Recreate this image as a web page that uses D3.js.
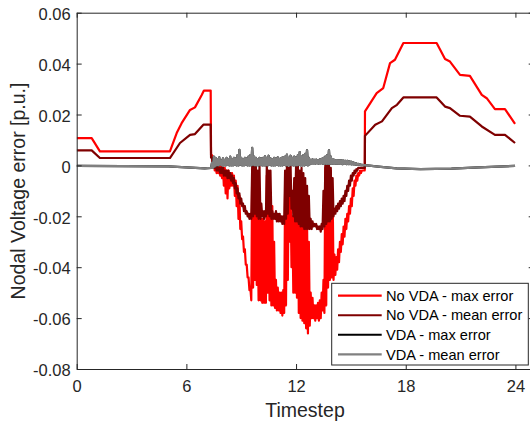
<!DOCTYPE html>
<html>
<head>
<meta charset="utf-8">
<script src="https://cdn.jsdelivr.net/npm/d3@7"></script>
<style>
  body { margin: 0; background: #fff; }
  svg { display: block; font-family: "Liberation Sans", Arial, sans-serif; }
</style>
</head>
<body>
<div id="chart"></div>
<script>
// axis ticks
const xTicks = [0, 6, 12, 18, 24];
const yTicks = [-0.08, -0.06, -0.04, -0.02, 0, 0.02, 0.04, 0.06];
const yTickLabels = ["-0.08", "-0.06", "-0.04", "-0.02", "0", "0.02", "0.04", "0.06"];

const seriesNames = ["No VDA - max error", "No VDA - mean error", "VDA - max error", "VDA - mean error"];
const seriesColors = ["#ff0000", "#7f0000", "#000000", "#808080"];

// smooth parts [time, error]
const noVdaMaxPre = [[0, 0.0107], [0.82, 0.0107], [1.27, 0.0055], [5.10, 0.0055], [5.47, 0.0127], [5.74, 0.0166],
  [6.20, 0.0218], [6.47, 0.0228], [6.84, 0.0277], [6.96, 0.0294], [7.33, 0.0294], [7.35, 0.004]];
const noVdaMaxPost = [[15.76, -0.0017], [15.77, 0.0212], [16.41, 0.0284], [16.77, 0.0304], [17.14, 0.0402], [17.41, 0.0415],
  [17.87, 0.0481], [19.69, 0.0481], [20.15, 0.0418], [20.42, 0.0408], [20.97, 0.0356], [21.51, 0.0352],
  [22.16, 0.0277], [22.43, 0.0264], [22.88, 0.0221], [23.43, 0.0221], [23.98, 0.0163]];

const noVdaMeanPre = [[0, 0.0059], [0.82, 0.0059], [1.27, 0.0029], [5.10, 0.0029], [5.65, 0.0088], [6.20, 0.012],
  [6.47, 0.0123], [6.93, 0.016], [7.33, 0.016], [7.35, 0.003]];
const noVdaMeanPost = [[15.76, -0.001], [15.77, 0.0116], [16.33, 0.016], [16.7, 0.0173], [17.24, 0.0225], [17.52, 0.0238],
  [17.87, 0.0267], [19.69, 0.0267], [20.15, 0.0231], [20.42, 0.0225], [20.97, 0.0195], [21.51, 0.0192],
  [22.16, 0.0153], [22.88, 0.012], [23.43, 0.012], [23.98, 0.0088]];

const vdaMeanPre = [[0, -0.0002], [5.0, -0.0004], [6.0, -0.0008], [7.0, -0.0012], [7.35, -0.001]];
const vdaMeanPost = [[15.76, 0.0001], [16.5, -0.0005], [17.5, -0.0012], [18.8, -0.0015], [20.5, -0.0013], [22.0, -0.0008], [23.98, -0.0002]];

// noisy part 7.4h .. 15.7h, every 0.1h: upper and lower value of the fast swings
const noisyStart = 7.4, noisyStep = 0.1;
const noVdaMaxHi = [0.004, 0.003, 0.002, 0.001, 0, 0, -0.001, -0.001, -0.002, -0.002,
  -0.003, -0.003, -0.004, -0.006, -0.008, -0.012, -0.022, -0.028, -0.033, -0.039,
  -0.044, -0.048, -0.002, -0.010, -0.012, -0.020, -0.020, -0.021, -0.021, -0.022,
  -0.004, -0.008, -0.015, -0.016, -0.030, -0.045, -0.048, -0.050, -0.050, -0.049,
  -0.010, -0.002, -0.005, -0.008, -0.020, -0.010, -0.003, -0.005, -0.010, -0.008,
  -0.012, -0.010, -0.020, -0.030, -0.050, -0.052, -0.055, -0.055, -0.054, -0.053,
  -0.050, -0.045, -0.001, -0.001, -0.002, -0.002, -0.010, -0.035, -0.036, -0.033,
  -0.030, -0.027, -0.024, -0.021, -0.019, -0.016, -0.013, -0.009, -0.006, -0.004,
  -0.003, -0.002, -0.002, -0.002];
const noVdaMaxLo = [0, -0.002, -0.003, -0.003, -0.004, -0.005, -0.008, -0.011, -0.013, -0.009,
  -0.008, -0.008, -0.012, -0.016, -0.021, -0.025, -0.029, -0.034, -0.039, -0.044,
  -0.049, -0.053, -0.048, -0.045, -0.047, -0.053, -0.053, -0.054, -0.054, -0.054,
  -0.050, -0.053, -0.055, -0.055, -0.056, -0.057, -0.057, -0.058, -0.059, -0.058,
  -0.055, -0.045, -0.030, -0.040, -0.050, -0.050, -0.052, -0.058, -0.060, -0.061,
  -0.062, -0.064, -0.066, -0.063, -0.060, -0.060, -0.061, -0.060, -0.061, -0.060,
  -0.057, -0.058, -0.055, -0.048, -0.045, -0.044, -0.045, -0.043, -0.041, -0.038,
  -0.034, -0.031, -0.028, -0.025, -0.022, -0.019, -0.016, -0.012, -0.008, -0.006,
  -0.004, -0.003, -0.002, -0.002];
const noVdaMeanHi = [0.003, 0.002, 0.001, 0, -0.001, -0.001, -0.001, -0.002, -0.002, -0.002,
  -0.003, -0.004, -0.005, -0.007, -0.009, -0.011, -0.013, -0.015, -0.016, -0.018,
  -0.019, -0.019, 0, 0, 0, -0.002, 0, -0.015, -0.018, -0.018,
  0, -0.002, -0.002, -0.018, -0.019, -0.018, -0.019, -0.019, -0.020, -0.020,
  -0.002, 0, -0.001, 0, -0.010, -0.005, 0, 0, -0.002, -0.001,
  -0.003, -0.005, -0.008, -0.012, -0.021, -0.022, -0.023, -0.023, -0.024, -0.024,
  -0.023, -0.010, 0, 0, 0, -0.001, -0.005, -0.017, -0.016, -0.015,
  -0.014, -0.013, -0.012, -0.010, -0.008, -0.006, -0.004, -0.003, -0.002, -0.0015,
  -0.001, -0.001, -0.001, -0.001];
const noVdaMeanLo = [0, -0.001, -0.002, -0.002, -0.003, -0.003, -0.004, -0.004, -0.005, -0.005,
  -0.006, -0.007, -0.009, -0.011, -0.013, -0.015, -0.016, -0.018, -0.019, -0.020,
  -0.021, -0.021, -0.020, -0.019, -0.020, -0.021, -0.021, -0.020, -0.021, -0.020,
  -0.019, -0.020, -0.021, -0.021, -0.021, -0.022, -0.022, -0.022, -0.023, -0.023,
  -0.021, -0.019, -0.012, -0.017, -0.020, -0.022, -0.022, -0.023, -0.024, -0.024,
  -0.025, -0.025, -0.025, -0.025, -0.025, -0.024, -0.024, -0.025, -0.025, -0.026,
  -0.025, -0.024, -0.023, -0.022, -0.022, -0.021, -0.020, -0.019, -0.018, -0.017,
  -0.016, -0.015, -0.014, -0.012, -0.010, -0.008, -0.006, -0.004, -0.003, -0.002,
  -0.001, -0.001, -0.001, -0.001];
const vdaMeanHi = [0.001, 0.0035, 0.003, 0.0025, 0.0032, 0.002, 0.0028, 0.0022, 0.003, 0.0025,
  0.0035, 0.0025, 0.003, 0.0028, 0.004, 0.0061, 0.003, 0.0025, 0.003, 0.0028,
  0.0035, 0.004, 0.0069, 0.0035, 0.003, 0.0025, 0.003, 0.0028, 0.003, 0.0036,
  0.003, 0.0038, 0.0028, 0.0025, 0.003, 0.0028, 0.0032, 0.0026, 0.003, 0.0033,
  0.0035, 0.0042, 0.003, 0.0038, 0.003, 0.0035, 0.0032, 0.004, 0.0052, 0.0035,
  0.004, 0.0045, 0.006, 0.003, 0.0022, 0.0024, 0.0022, 0.0023, 0.0021, 0.0024,
  0.0026, 0.003, 0.0035, 0.004, 0.006, 0.0035, 0.0025, 0.0022, 0.0021, 0.002,
  0.0021, 0.002, 0.0019, 0.0018, 0.0018, 0.0016, 0.0015, 0.0013, 0.001, 0.0008,
  0.0006, 0.0004, 0.0002, 0.0001];
const vdaMeanLo = [-0.001, -0.0005, 0, 0, 0.0002, 0, 0, 0, 0.0002, 0,
  0, 0, 0.0002, 0, 0, 0.0003, 0, 0, 0.0002, 0,
  0, 0, 0.0002, 0, 0, 0, 0.0002, 0, 0, 0,
  0, 0.0002, 0, 0, 0, 0.0002, 0, 0, 0, 0.0002,
  0, 0, 0, 0.0002, 0, 0, 0, 0.0002, 0, 0,
  0, 0.0002, 0, 0.0004, 0.0006, 0.0008, 0.0007, 0.0008, 0.0007, 0.0008,
  0.0007, 0.0006, 0.0006, 0.0006, 0.0006, 0.0006, 0.0006, 0.0007, 0.0007, 0.0006,
  0.0006, 0.0005, 0.0006, 0.0005, 0.0005, 0.0005, 0.0004, 0.0004, 0.0003, 0.0002,
  0.0002, 0.0001, 0.0001, 0];

const width = 530, height = 422;
const plot = { left: 76.7, top: 12.7, right: 533.7, bottom: 369 };
const axisColor = "#262626";

const svg = d3.select("#chart")
  .append("svg")
  .attr("width", width)
  .attr("height", height);

const x = d3.scaleLinear().domain([0, 25]).range([plot.left, plot.right]);
const y = d3.scaleLinear().domain([-0.08, 0.06]).range([plot.bottom, plot.top]);

// stitch smooth part + fast swings (hi then lo inside each 0.1h slot) + smooth part
function build(pre, hi, lo, post) {
  const pts = pre.slice();
  hi.forEach(function (h, i) {
    const t = noisyStart + i * noisyStep;
    pts.push([t, h]);
    pts.push([t + noisyStep / 2, lo[i]]);
  });
  return pts.concat(post);
}

const noVdaMax = build(noVdaMaxPre, noVdaMaxHi, noVdaMaxLo, noVdaMaxPost);
const noVdaMean = build(noVdaMeanPre, noVdaMeanHi, noVdaMeanLo, noVdaMeanPost);
const vdaMean = build(vdaMeanPre, vdaMeanHi, vdaMeanLo, vdaMeanPost);
// VDA max error lies under the mean error curve in the picture
const vdaMax = vdaMean;

svg.append("clipPath").attr("id", "clip")
  .append("rect")
  .attr("x", plot.left).attr("y", plot.top)
  .attr("width", plot.right - plot.left).attr("height", plot.bottom - plot.top);

const line = d3.line()
  .x(function (d) { return x(d[0]); })
  .y(function (d) { return y(d[1]); });

svg.append("g")
  .attr("clip-path", "url(#clip)")
  .selectAll("path")
  .data([noVdaMax, noVdaMean, vdaMax, vdaMean])
  .join("path")
  .attr("d", line)
  .attr("fill", "none")
  .attr("stroke", function (d, i) { return seriesColors[i]; })
  .attr("stroke-width", 2.2)
  .attr("stroke-linejoin", "round");

// axes (box with inward ticks)
const tickFont = "16.5px";
const gx = svg.append("g")
  .attr("transform", `translate(0, ${plot.bottom})`)
  .call(d3.axisBottom(x).tickValues(xTicks).tickSize(-5).tickSizeOuter(0).tickPadding(11));
const gy = svg.append("g")
  .attr("transform", `translate(${plot.left}, 0)`)
  .call(d3.axisLeft(y).tickValues(yTicks).tickSize(-5).tickSizeOuter(0).tickPadding(6)
    .tickFormat(function (d, i) { return yTickLabels[i]; }));
gy.selectAll("text").attr("dy", "0.41em");
const gt = svg.append("g")
  .attr("transform", `translate(0, ${plot.top})`)
  .call(d3.axisTop(x).tickValues(xTicks).tickSize(-5).tickSizeOuter(0).tickFormat(""));
const gr = svg.append("g")
  .attr("transform", `translate(${plot.right}, 0)`)
  .call(d3.axisRight(y).tickValues(yTicks).tickSize(-5).tickSizeOuter(0).tickFormat(""));

[gx, gy, gt, gr].forEach(function (g) {
  g.selectAll("path, line").attr("stroke", axisColor).attr("stroke-width", 1);
  g.selectAll("text")
    .attr("fill", axisColor)
    .style("font-size", tickFont)
    .style("font-family", '"Liberation Sans", Arial, sans-serif');
});

// axis titles
svg.append("text")
  .attr("x", 305)
  .attr("y", 416.7)
  .attr("text-anchor", "middle")
  .attr("fill", axisColor)
  .style("font-size", "19.5px")
  .text("Timestep");

svg.append("text")
  .attr("transform", "translate(24.5, 191) rotate(-90)")
  .attr("text-anchor", "middle")
  .attr("fill", axisColor)
  .style("font-size", "19.5px")
  .text("Nodal Voltage error [p.u.]");

// legend
const legend = svg.append("g");
legend.append("rect")
  .attr("x", 331.7).attr("y", 283.3)
  .attr("width", 196.6).attr("height", 81.7)
  .attr("fill", "#fff")
  .attr("stroke", axisColor)
  .attr("stroke-width", 1);

const rowY = d3.scaleLinear().domain([0, 3]).range([295.7, 354.3]);
const rows = legend.selectAll("g.row")
  .data(seriesNames)
  .join("g")
  .attr("class", "row")
  .attr("transform", function (d, i) { return `translate(0, ${rowY(i)})`; });
rows.append("line")
  .attr("x1", 338).attr("x2", 381.7)
  .attr("stroke", function (d, i) { return seriesColors[i]; })
  .attr("stroke-width", 2.2);
rows.append("text")
  .attr("x", 386)
  .attr("dy", "0.36em")
  .attr("fill", "#000")
  .style("font-size", "14.6px")
  .text(function (d) { return d; });
</script>
</body>
</html>
